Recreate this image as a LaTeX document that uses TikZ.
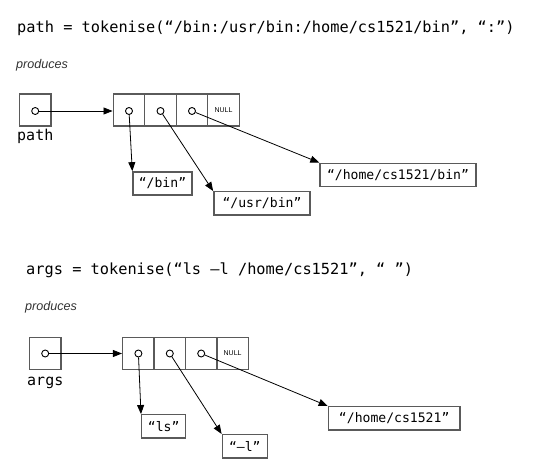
\documentclass[tikz,border=0pt]{standalone}
\usepackage{fontspec}
\setmainfont{Liberation Sans}
\newfontfamily\codefont{DejaVu Sans Mono}
\usetikzlibrary{arrows.meta}
\definecolor{boxgrey}{HTML}{5A5A5A}
\definecolor{textgrey}{HTML}{333333}
\tikzset{
  cell/.style={draw=boxgrey, line width=1.4pt, minimum width=31.5pt, minimum height=32pt, inner sep=0pt},
  strbox/.style={draw=boxgrey, line width=1.4pt, minimum height=23.3pt, inner sep=0pt, font=\codefont\fontsize{13.1}{15}\selectfont},
  ptr/.style={circle, draw=black, fill=white, line width=0.9pt, minimum size=7pt, inner sep=0pt},
  conn/.style={draw=black, line width=0.8pt, -{Triangle[length=9pt,width=7pt]}},
  title/.style={anchor=base west, inner sep=0pt, font=\codefont\fontsize{15.3}{18}\selectfont},
  varlabel/.style={anchor=base west, inner sep=0pt, font=\codefont\fontsize{15}{18}\selectfont},
  prod/.style={anchor=base west, inner sep=0pt, text=textgrey, font=\itshape\fontsize{12.6}{15}\selectfont},
  nulltxt/.style={font=\fontsize{7}{8}\selectfont}
}
\begin{document}
\begin{tikzpicture}[x=1pt, y=-1pt]
\useasboundingbox (0,0) rectangle (533,471);

% ---------- top example ----------
\node[title] (t1) at (17,32) {path = tokenise(“/bin:/usr/bin:/home/cs1521/bin”, “:”)};
\node[prod] (pr1) at (16,68) {produces};

\node[cell] (pbox) at (35.2,110) {};
\node[ptr] (p0) at (35.2,111) {};
\node[varlabel] (plab) at (17,140) {path};

\node[cell] (c1) at (129,110) {};
\node[cell] (c2) at (160.5,110) {};
\node[cell] (c3) at (192,110) {};
\node[cell, nulltxt] (c4) at (223.5,110) {NULL};
\node[ptr] (q1) at (129,111) {};
\node[ptr] (q2) at (160.5,111) {};
\node[ptr] (q3) at (192,111) {};

\node[strbox, minimum width=59pt] (s1) at (162.5,183.5) {“/bin”};
\node[strbox, minimum width=96.3pt] (s2) at (262,203.4) {“/usr/bin”};
\node[strbox, minimum width=156pt] (s3) at (398,175) {“/home/cs1521/bin”};

\draw[conn] (p0) -- (c1.west |- p0);
\draw[conn] (q1) -- (s1.north west);
\draw[conn] (q2) -- (s2.north west);
\draw[conn] (q3) -- (s3.north west);

% ---------- bottom example ----------
\node[title] (t2) at (26,274) {args = tokenise(“ls –l /home/cs1521”, “ ”)};
\node[prod] (pr2) at (25,310) {produces};

\node[cell] (abox) at (45.2,353.2) {};
\node[ptr] (a0) at (45.2,353.5) {};
\node[varlabel] (alab) at (27,385) {args};

\node[cell] (d1) at (138.4,353.2) {};
\node[cell] (d2) at (169.8,353.2) {};
\node[cell] (d3) at (201.2,353.2) {};
\node[cell, nulltxt] (d4) at (232.6,353.2) {NULL};
\node[ptr] (r1) at (138.4,353.5) {};
\node[ptr] (r2) at (169.8,353.5) {};
\node[ptr] (r3) at (201.2,353.5) {};

\node[strbox, minimum width=44pt] (u1) at (163.7,426.4) {“ls”};
\node[strbox, minimum width=45pt] (u2) at (244.8,446.3) {“–l”};
\node[strbox, minimum width=131.7pt] (u3) at (394.2,418.3) {“/home/cs1521”};

\draw[conn] (a0) -- (d1.west |- a0);
\draw[conn] (r1) -- (u1.north west);
\draw[conn] (r2) -- (u2.north west);
\draw[conn] (r3) -- (u3.north west);
\end{tikzpicture}
\end{document}
